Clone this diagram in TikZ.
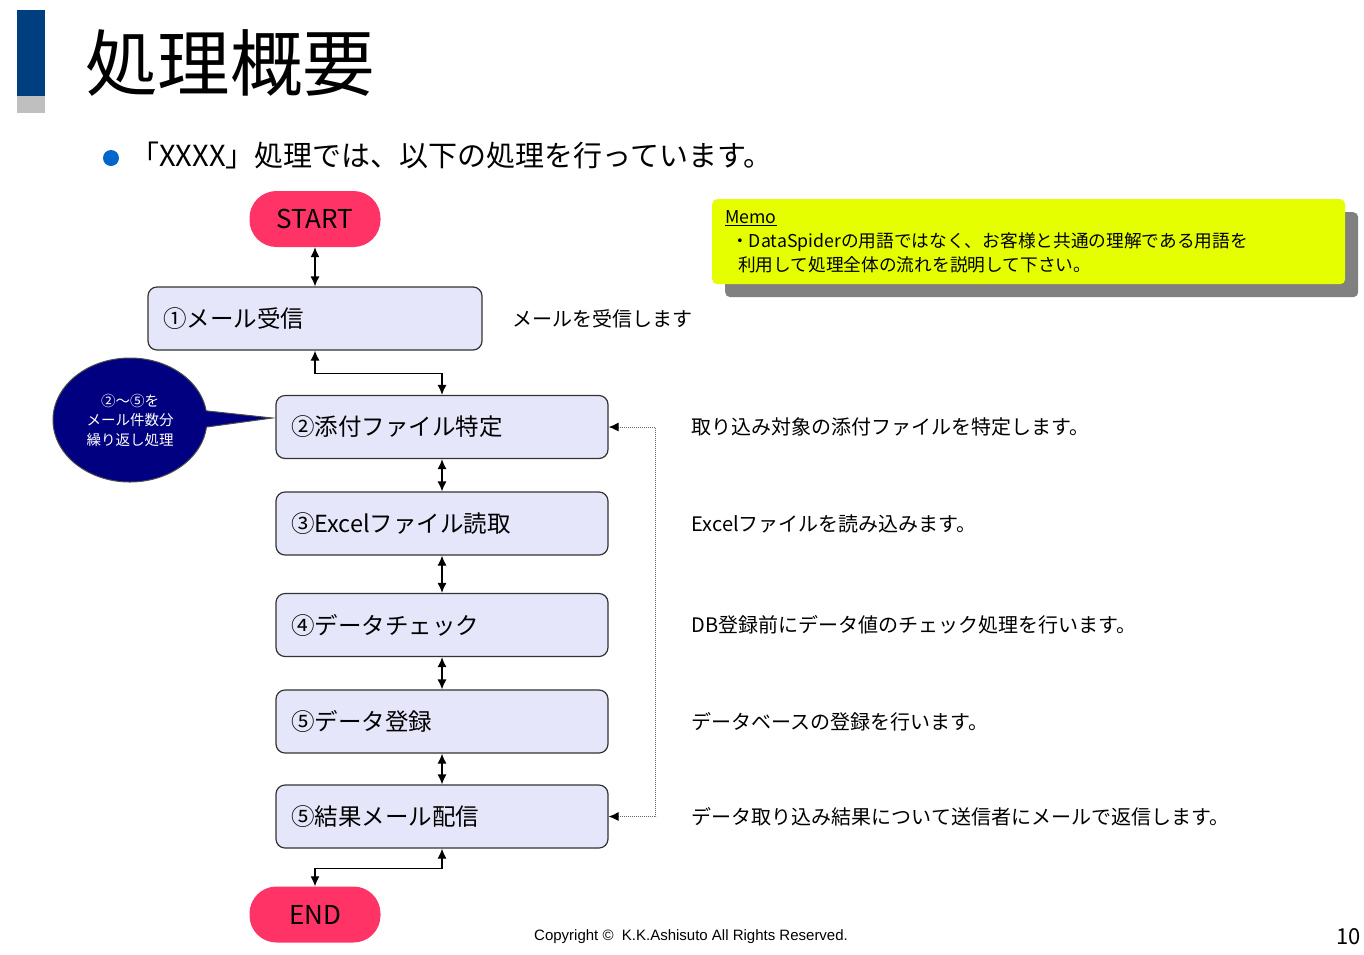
\documentclass[tikz,border=0pt]{standalone}
\usepackage{fontspec}
\setmainfont{Noto Sans CJK JP}
\newfontfamily\copyfont{Liberation Sans}
\usetikzlibrary{calc,positioning,arrows.meta,shapes.callouts,shadows}
\definecolor{titleblue}{RGB}{0,63,127}
\definecolor{bargray}{RGB}{191,191,191}
\definecolor{bulletblue}{RGB}{0,102,204}
\definecolor{termred}{RGB}{255,51,102}
\definecolor{boxlav}{RGB}{230,230,250}
\definecolor{memoyellow}{RGB}{230,255,0}
\definecolor{notenavy}{RGB}{0,0,128}
\tikzset{
>={Latex[length=10pt,width=9pt]}, % small filled heads
stepbox/.style={draw=black!80, line width=1.2pt, rounded corners=9pt, fill=boxlav,
  text width=302pt, inner xsep=15pt, minimum height=63pt, align=left,
  font=\fontsize{23.5}{28}\selectfont},
terminal/.style={rounded corners=27pt, fill=termred, minimum width=131pt,
  minimum height=56pt, font=\fontsize{26}{30}\selectfont}, % START / END pills
desc/.style={font=\fontsize{20}{24}\selectfont, inner sep=0pt},
flow/.style={<->, line width=1.2pt},
loopback/.style={{Latex[length=10pt,width=9pt,black]}-{Latex[length=10pt,width=9pt,black]},
  densely dotted, draw=black!60, line width=1pt},
}

\begin{document}
\begin{tikzpicture}[x=1pt, y=-1pt]
\useasboundingbox (0,0) rectangle (1364,954);
% heading
\fill[titleblue] (17,10) rectangle (45,96);
\fill[bargray] (17,96) rectangle (45,113);
\node[anchor=west, inner sep=0pt, font=\fontsize{72.5}{80}\selectfont] (title) at (85,63) {処理概要};
\fill[bulletblue] (111,158) circle (8);
\node[anchor=west, inner sep=0pt, font=\fontsize{29}{32}\selectfont] (lead) at (130,155) {「XXXX」処理では、以下の処理を行っています。};

% flow
\node[terminal] (start) at (315,219) {START};
\node[stepbox, text width=304pt] (box1) at (315,318.5) {①メール受信};
\node[stepbox] (box2) at (442,427) {②添付ファイル特定};
\node[stepbox] (box3) at (442,523.5) {③Excelファイル読取};
\node[stepbox] (box4) at (442,625) {④データチェック};
\node[stepbox] (box5) at (442,721.5) {⑤データ登録};
\node[stepbox] (box6) at (442,816.5) {⑤結果メール配信};
\node[terminal] (end) at (315,914.5) {END};

\draw[flow] (start) -- (box1);
\draw[flow] (box1.south) -- ++(0,22.5) -| (box2.north);
\draw[flow] (box2) -- (box3);
\draw[flow] (box3) -- (box4);
\draw[flow] (box4) -- (box5);
\draw[flow] (box5) -- (box6);
\draw[flow] (box6.south) -- ++(0,19.5) -| (end.north);
\draw[loopback] (box2.east) -- ++(47,0) |- (box6.east);

% notes
\node[ellipse callout, fill=notenavy, draw=black!70, line width=1pt,
  callout absolute pointer={($(box2.west)+(-3,-9)$)},
  minimum width=154pt, minimum height=124pt, inner sep=0pt, text=white,
  align=center, font=\fontsize{14.5}{19.5}\selectfont] (loopnote) at (130,420)
  {②〜⑤を\\メール件数分\\繰り返し処理};

\node[desc, anchor=west, right=30pt of box1] (d1) {メールを受信します};
\node[desc, anchor=west, right=83pt of box2] (d2) {取り込み対象の添付ファイルを特定します。};
\node[desc, anchor=west, right=83pt of box3] (d3) {Excelファイルを読み込みます。};
\node[desc, anchor=west, right=83pt of box4] (d4) {DB登録前にデータ値のチェック処理を行います。};
\node[desc, anchor=west, right=83pt of box5] (d5) {データベースの登録を行います。};
\node[desc, anchor=west, right=83pt of box6] (d6) {データ取り込み結果について送信者にメールで返信します。};

\node[anchor=north west, fill=memoyellow, rounded corners=5pt,
  drop shadow={shadow xshift=13pt, shadow yshift=-13pt, fill=black!50, opacity=1},
  text width=607pt, inner xsep=13pt, inner ysep=4pt, minimum height=85pt,
  align=left, font=\fontsize{17.7}{24}\selectfont] (memo) at (712,199)
  {\underline{Memo}\\\hspace*{6pt}・DataSpiderの用語ではなく、お客様と共通の理解である用語を\\\hspace*{13pt}利用して処理全体の流れを説明して下さい。};

% footer
\node[anchor=west, inner sep=0pt, font=\copyfont\fontsize{15}{17}\selectfont] (copyright) at (534,937) {Copyright ©\ \ K.K.Ashisuto All Rights Reserved.};
\node[anchor=east, inner sep=0pt, font=\fontsize{22}{24}\selectfont] (page) at (1361,937) {10};
\end{tikzpicture}
\end{document}
